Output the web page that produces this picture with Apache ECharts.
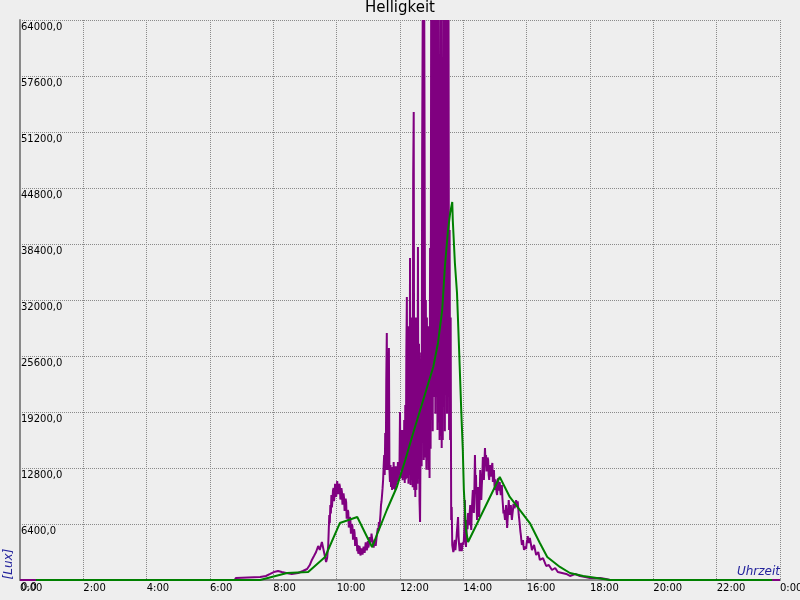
<!DOCTYPE html>
<html>
<head>
<meta charset="utf-8">
<script src="https://cdn.jsdelivr.net/npm/echarts@6/dist/echarts.min.js"></script>
<style>
html,body{margin:0;padding:0;background:#eeeeee;}
#chart{width:800px;height:600px;}
</style>
</head>
<body>
<div id="chart"></div>
<script>
// Time in minutes since midnight, brightness in Lux (raw measurements)
const rawLux = [
[0,0],[407,0],[409,230],[455,340],[466,460],[474,690],[481,910],[489,1030],[496,910],[504,800],[515,690],[527,800],
[536,1030],[544,1260],[549,1710],[553,2290],[557,2740],[561,3200],[565,3890],[568,3430],[572,4340],[576,3200],[580,2060],
[582,2510],
[584,4000],[585,5700],[586,7430],[587,6500],[588,8570],[589,7600],[590,9710],[591,8300],[592,9140],[593,10200],[594,10510],
[595,9000],[596,9710],[597,11000],[598,10860],[599,9500],[600,10060],[601,11300],[602,11200],[603,9800],[604,10290],[605,11000],
[606,10740],[607,9200],[608,9490],[609,10500],[610,10060],[611,8600],[612,8800],[613,9900],[614,9370],[615,7900],[616,8230],
[617,9300],[618,8910],[619,7000],[620,7090],[621,8000],[622,7770],[623,6000],[624,6290],[625,7200],[626,6860],[627,5300],
[628,5490],[629,6400],[630,6060],[631,4600],[632,4800],[633,5800],[634,5370],[635,3900],[636,4000],[637,4900],[638,4570],
[639,3300],[640,4000],[641,3000],[642,3090],[643,3900],[644,3660],[645,2800],[646,2860],[647,3600],[648,3430],[649,2900],
[650,3090],[651,3800],[652,3890],[653,3100],[654,3310],[655,4300],[656,4110],[657,3400],[658,3660],[659,4460],[660,3700],
[661,4000],[662,4900],[663,4200],[664,4910],[665,4340],[666,5300],[667,5140],[668,4300],[669,4460],[670,3700],[671,3770],
[672,4600],[673,4570],[674,3900],[675,4110],[676,5100],[677,5140],[678,5940],[679,5600],[680,6630],[681,6000],[682,6060],
[683,7500],[684,8570],[685,9000],[686,9710],[687,10500],[688,11430],[689,13000],
[690,14290],[691,12000],[692,16800],[693,12570],[694,22860],[695,28230],[696,12570],[697,14000],[698,12570],[699,26510],
[700,12570],[701,11200],[702,13140],[703,10630],[704,12570],[705,10290],[706,12910],[707,11090],[708,13490],[709,10400],
[710,12570],[711,10290],[712,13000],[713,10800],[714,12600],[715,11200],[716,13490],[717,11400],[718,12000],[719,12800],
[720,19200],[721,12570],[722,15000],[723,11660],[724,17140],[725,11400],[726,16000],[727,11660],[728,18290],[729,11090],
[730,20000],[731,11500],[732,26000],[733,32350],[734,11660],[735,29000],[736,11000],[737,27430],[738,12000],[739,36800],
[740,10860],[741,30000],[742,11400],[743,29710],[744,10600],[745,46290],[746,53490],[747,10290],[748,29000],[749,9490],
[750,30000],[751,10300],[752,28570],[753,11000],[754,38060],[755,12570],[756,27000],[757,9000],[758,6630],[759,16000],
[760,26000],[761,13000],[762,49150],[763,64000],[764,64000],[765,13710],[766,64000],[767,64000],[768,14000],[769,32000],
[770,12600],[771,30000],[772,13700],[773,29000],[774,12570],[775,27000],[776,11660],[777,37940],[778,15000],[779,64000],
[780,18290],[781,64000],[782,17000],[783,64000],[784,59000],[785,20910],[786,64000],[787,19000],[788,64000],[789,21000],
[790,64000],[791,17140],[792,64000],[793,18000],[794,54520],[795,16000],[796,64000],[797,16500],[798,64000],[799,15090],
[800,59000],[801,16000],[802,64000],[803,20570],[804,64000],[805,17000],[806,64000],[807,22860],[808,64000],[809,19000],
[810,64000],[811,20910],[812,64000],[813,17140],[814,40000],[815,16000],[816,30000],[817,6860],[818,8340],[819,4000],
[820,4000],[821,3200],[822,3430],[823,4300],[824,4570],[825,3400],[826,3310],[827,4800],[828,5710],[829,6400],[830,7200],
[831,5000],[832,4000],[833,3300],[834,3200],[835,4000],[836,4230],[837,3300],[838,3430],[839,4300],[840,4000],[841,4570],
[842,6000],[843,9140],[844,5000],[845,3770],[846,5400],[847,6860],[848,5800],[849,7660],[850,6600],[851,6290],[852,7600],
[853,8570],[854,6600],[855,5710],[856,7800],[857,9140],[858,10290],[859,8300],[860,7660],[861,10500],[862,14290],[863,11000],
[864,12000],[865,8600],[866,6860],[867,9000],[868,10630],[869,8300],[870,7200],[871,9800],[872,12570],[873,10400],[874,9140],
[875,10800],[876,12000],[877,14060],[878,12300],[879,11430],[880,13400],[881,15090],[882,13600],[883,14290],[884,12400],
[885,12570],[886,14000],[887,13710],[888,12000],[889,11430],[890,12800],[891,13140],[892,11800],[893,11660],[894,13000],
[895,13370],[896,11200],[897,12200],[898,12570],[899,10800],[900,10290],[901,11500],[902,11430],[903,10000],[904,9710],
[905,11000],[906,11660],[907,10200],[908,10290],[909,11200],[910,10200],[911,9710],[912,10500],[913,10860],[914,9400],
[915,8570],[916,7600],[917,8000],[918,7400],[919,6860],[920,7800],[921,8570],[922,7000],[923,5940],[924,7000],[925,8000],
[926,9140],[927,8200],[928,7430],[929,8300],[930,8570],[931,7600],[932,6860],[933,7500],[934,8000],[935,8700],[936,8800],
[937,8200],[938,8000],[939,8700],[940,9140],[941,8500],[942,8460],[943,9000],[944,9140],[945,7430],[946,6900],[947,6290],
[948,5600],[949,5140],[950,4500],[951,4000],[952,4300],[953,4570],[954,3900],[955,3430],[956,3800],[957,4000],[958,3700],
[959,3540],[960,4200],[961,4570],[962,5000],[963,5140],[964,4230],[965,4500],[966,4800],
[970,3430],[974,4000],[978,2860],[982,3200],[985,2290],[991,2510],[997,1600],[1002,1710],[1008,1140],[1014,1370],[1019,910],
[1027,800],[1035,690],[1042,460],[1052,690],[1061,460],[1071,340],[1080,230],[1099,230],[1110,110],[1118,0],[1440,0]
];
// Smoothed brightness (green line)
const avgLux = [
[30,0],[455,0],[506,800],[546,910],[578,2630],[606,6510],[639,7200],[667,3770],[695,8000],[714,10630],[730,13710],
[745,16800],[764,20570],[783,24340],[792,27090],[800,30860],[805,35770],[811,40000],[815,41940],[819,43200],[820,41140],
[824,36230],[828,32800],[832,26290],[836,19430],[839,14860],[841,10290],[845,5710],[849,4340],[909,11770],[928,9490],
[966,6510],[985,4230],[999,2630],[1023,1490],[1042,800],[1067,460],[1093,230],[1118,0],[1425,0]
];
const yMax = 64000, yStep = 6400;
const xMax = 1440, xStep = 120;

const chart = echarts.init(document.getElementById('chart'), null, {renderer:'canvas'});
const FONT = 'DejaVu Sans';
const gridLine = {show:true, lineStyle:{color:'#8a8a8a', type:[1,1], width:1}};
chart.setOption({
  backgroundColor:'#eeeeee',
  animation:false,
  title:{text:'Helligkeit', left:'center', top:1, padding:0,
    textStyle:{fontFamily:FONT, fontSize:15, fontWeight:'normal', color:'#000'}},
  grid:{left:20, right:20, top:20, bottom:20, containLabel:false, outerBoundsMode:'none'},
  xAxis:{type:'value', min:0, max:xMax, interval:xStep,
    axisLine:{show:true, onZero:false, lineStyle:{color:'#888888', width:2}},
    axisTick:{show:false},
    axisLabel:{fontFamily:FONT, fontSize:10, color:'#000', align:'left', margin:3,
      showMinLabel:true, showMaxLabel:true, hideOverlap:false,
      formatter:v => (Math.round(v/60)%24) + ':00'},
    splitLine:gridLine},
  yAxis:{type:'value', min:0, max:yMax, interval:yStep,
    axisLine:{show:true, lineStyle:{color:'#888888', width:2}},
    axisTick:{show:false},
    axisLabel:{inside:true, margin:1, fontFamily:FONT, fontSize:10, color:'#000', verticalAlign:'top', padding:[2,0,0,0],
      formatter:v => v.toFixed(1).replace('.', ',')},
    splitLine:gridLine},
  graphic:[
    {type:'text', x:9, y:564, rotation:Math.PI/2,
      style:{text:'[Lux]', font:'italic 12px "DejaVu Sans"', fill:'#23239c', textAlign:'center', textVerticalAlign:'middle'}},
    {type:'text', x:780, y:578,
      style:{text:'Uhrzeit', font:'italic 12px "DejaVu Sans"', fill:'#23239c', textAlign:'right', textVerticalAlign:'bottom'}}
  ],
  series:[
    {type:'line', data:rawLux, showSymbol:false, symbol:'none', lineStyle:{color:'#800080', width:2}, itemStyle:{color:'#800080'}, z:2},
    {type:'line', data:avgLux, showSymbol:false, symbol:'none', lineStyle:{color:'#008000', width:2}, itemStyle:{color:'#008000'}, z:3}
  ]
});
</script>
</body>
</html>
